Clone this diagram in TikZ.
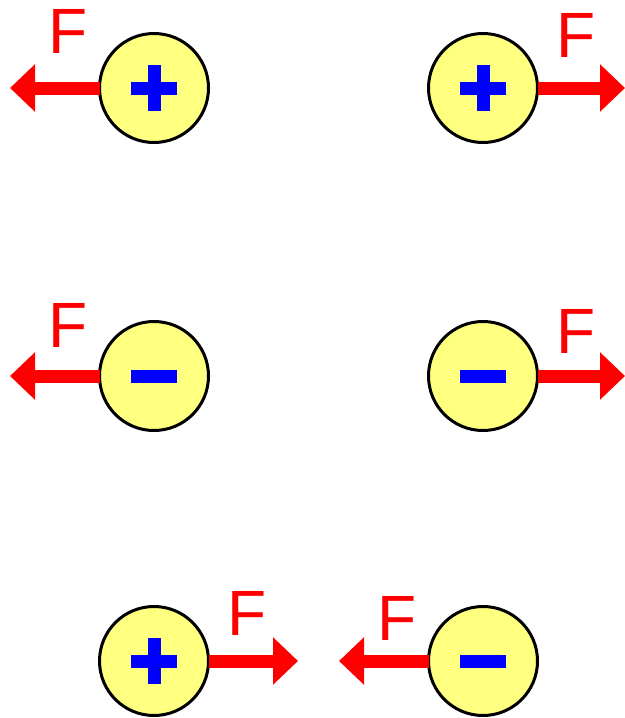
\documentclass[tikz,border=0pt]{standalone}
\usepackage{fontspec}
\setmainfont{Liberation Sans}
\usetikzlibrary{arrows.meta}
\definecolor{chargeyellow}{RGB}{255,255,128}
\definecolor{forcered}{RGB}{255,0,0}
\definecolor{signblue}{RGB}{0,0,255}
\tikzset{
  charge/.style={circle, draw=black, fill=chargeyellow, line width=2.25pt, minimum size=81.75pt, inner sep=0pt, outer sep=0pt},
  force/.style={draw=forcered, line width=9.75pt, -{Triangle[length=18.75pt, width=34.5pt]}, forcered},
  flabel/.style={text=forcered, font=\fontsize{48}{48}\selectfont, inner sep=0pt, anchor=base},
  signbar/.style={draw=signblue, line width=9.75pt, line cap=butt},
}
\newcommand{\plussign}[1]{%
  \draw[signbar] ([xshift=-17.25pt]#1.center) -- ([xshift=17.25pt]#1.center);
  \draw[signbar] ([yshift=-17.25pt]#1.center) -- ([yshift=17.25pt]#1.center);}
\newcommand{\minussign}[1]{%
  \draw[signbar] ([xshift=-17.25pt]#1.center) -- ([xshift=17.25pt]#1.center);}
\begin{document}
\begin{tikzpicture}[x=0.75pt, y=-0.75pt]
\useasboundingbox (0,0) rectangle (625,718);
% arrow tips
\coordinate (t1) at (10,88);
\coordinate (t2) at (625,88);
\coordinate (t3) at (10,376);
\coordinate (t4) at (625,376);
\coordinate (t5) at (298,661);
\coordinate (t6) at (339,661);
% charges
\node[charge] (c1) at (154,88) {};
\node[charge] (c2) at (483,88) {};
\node[charge] (c3) at (154,376) {};
\node[charge] (c4) at (483,376) {};
\node[charge] (c5) at (154,661) {};
\node[charge] (c6) at (483,661) {};
% forces
\draw[force] (c1.west) -- (t1);
\draw[force] (c2.east) -- (t2);
\draw[force] (c3.west) -- (t3);
\draw[force] (c4.east) -- (t4);
\draw[force] (c5.east) -- (t5);
\draw[force] (c6.west) -- (t6);
% signs
\plussign{c1}
\plussign{c2}
\minussign{c3}
\minussign{c4}
\plussign{c5}
\minussign{c6}
% labels
\node[flabel] (f1) at (68.5,53) {F};
\node[flabel] (f2) at (576.5,57) {F};
\node[flabel] (f3) at (68.5,347) {F};
\node[flabel] (f4) at (576.5,353) {F};
\node[flabel] (f5) at (247.5,635) {F};
\node[flabel] (f6) at (397.5,640) {F};
\end{tikzpicture}
\end{document}
